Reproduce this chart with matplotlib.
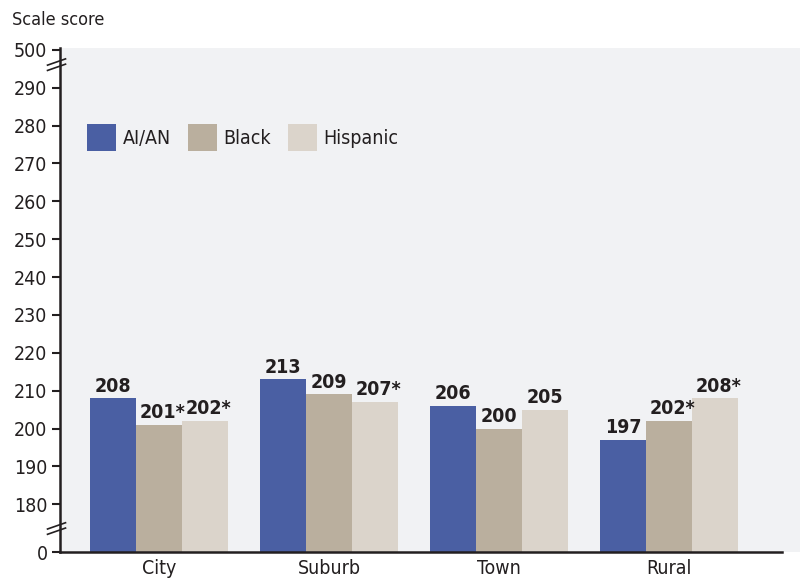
import matplotlib
matplotlib.use("Agg")
import matplotlib.pyplot as plt
import numpy as np

plt.rcParams['font.family'] = ['DejaVu Sans']
plt.rcParams['font.stretch'] = 'condensed'

# data
places = ['City', 'Suburb', 'Town', 'Rural']
groups = ['AI/AN', 'Black', 'Hispanic']
scores = {
    'AI/AN': [208, 213, 206, 197],
    'Black': [201, 209, 200, 202],
    'Hispanic': [202, 207, 205, 208],
}
marks = {
    'AI/AN': ['', '', '', ''],
    'Black': ['*', '', '', '*'],
    'Hispanic': ['*', '*', '', '*'],
}
colors = {'AI/AN': '#4A5FA3', 'Black': '#BAAF9E', 'Hispanic': '#DBD4CB'}
yticks = [180, 190, 200, 210, 220, 230, 240, 250, 260, 270, 280, 290]

txt = '#231F20'
base = 167.4   # where 0 sits on the broken axis
top_pos = 300  # where 500 sits

fig = plt.figure(figsize=(8.01, 5.86), dpi=100)
ax = fig.add_axes([60/801, 34/586, 740/801, 504/586])
ax.set_facecolor('#F1F2F4')

x = np.arange(len(places))
w = 0.27
for i, g in enumerate(groups):
    vals = np.array(scores[g])
    xs = x + (i - 1) * w
    ax.bar(xs, vals - base, bottom=base, width=w, color=colors[g], label=g)
    for xi, v, m in zip(xs, vals, marks[g]):
        ax.text(xi + (0.02 if m else 0), v + 0.7, f'{v}{m}', ha='center', va='bottom',
                fontsize=14, fontweight='bold', color=txt)

ax.set_xlim(-0.582, 3.77)
ax.set_ylim(base, 300.5)
ax.set_xticks(x)
ax.set_xticklabels(places, fontsize=14, color=txt)
ax.tick_params(axis='x', length=0, pad=5)
ax.set_yticks([base] + yticks + [top_pos])
ax.set_yticklabels(['0'] + [str(t) for t in yticks] + ['500'], fontsize=14, color=txt)
ax.tick_params(axis='y', length=6, width=1.5, color=txt, pad=3)

for s in ['top', 'right']:
    ax.spines[s].set_visible(False)
for s in ['left', 'bottom']:
    ax.spines[s].set_linewidth(1.8)
    ax.spines[s].set_color(txt)
ax.spines['bottom'].set_bounds(-0.582, 3.665)

# axis break marks
for yb in [296.1, 173.6]:
    for dy in [-0.7, 0.7]:
        ax.plot([-0.66, -0.545], [yb + dy - 0.9, yb + dy + 0.9], color=txt,
                lw=1.2, clip_on=False, solid_capstyle='butt')

ax.legend(loc='center left', bbox_to_anchor=(0.0365, 0.822), ncol=3, frameon=False,
          borderpad=0, borderaxespad=0,
          fontsize=14, handlelength=1.5, handleheight=1.8, handletextpad=0.35,
          columnspacing=0.85, labelcolor=txt)

fig.text(12/801, 1 - 20/586, 'Scale score', fontsize=13, color=txt, va='center')

fig.savefig('out.png', dpi=100)
